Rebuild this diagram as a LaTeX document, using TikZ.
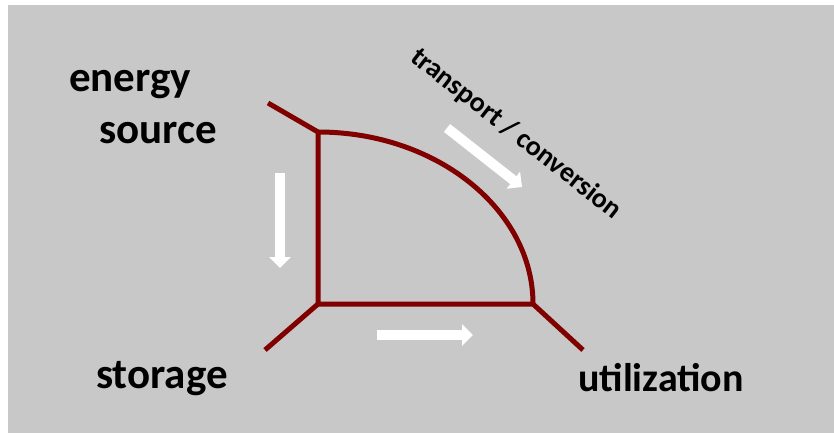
\documentclass[tikz,border=0pt]{standalone}
\usepackage{fontspec}
\setmainfont{Carlito}
\usetikzlibrary{arrows.meta}
\definecolor{pipe}{RGB}{128,0,0}
\definecolor{panel}{RGB}{200,200,200}

\begin{document}
\begin{tikzpicture}[
        x=1pt, y=-1pt,
        line/.style={draw=pipe, line width=5pt},
        flow/.style={draw=white, line width=10pt, -{Triangle[length=11pt, width=21pt]}},
        label/.style={anchor=base, inner sep=0pt, font=\fontsize{43}{48}\selectfont\bfseries},
        small/.style={inner sep=0pt, font=\fontsize{28}{32}\selectfont\bfseries}
    ]
    
    \useasboundingbox (0,0) rectangle (834,433);
    \fill[panel] (8,5) rectangle (834,433);
    
    % junctions
    \coordinate (src) at (318,132);
    \coordinate (sto) at (318,304);
    \coordinate (use) at (533,304);
    \coordinate (srcend) at (268,103);
    \coordinate (stoend) at (265,350);
    \coordinate (useend) at (583,350);
    
    \draw[line] (srcend) -- (src) -- (sto) -- (use) -- (useend);
    \draw[line] (stoend) -- (sto);
    \draw[line] (src) .. controls +(119,0) and +(0,-94) .. (use);
    
    % flow arrows
    \coordinate (down1) at (280,173);
    \coordinate (down2) at (280,268);
    \coordinate (right1) at (377,335);
    \coordinate (right2) at (473,335);
    \coordinate (diag1) at (447,128);
    \coordinate (diag2) at (522,187);
    \draw[flow] (down1) -- (down2);
    \draw[flow] (right1) -- (right2);
    \draw[flow] (diag1) -- (diag2);
    
    \node[label] (energy) at (130,92) {energy};
    \node[label] (source) at (158,143) {source};
    \node[label] (storage) at (162,388) {storage};
    \node[label, font=\fontsize{40}{44}\selectfont\bfseries] (utilization) at (661,391) {utilization};
    \node[small, rotate=-38] (transport) at (516,134) {transport / conversion};
    
\end{tikzpicture}
\end{document}
